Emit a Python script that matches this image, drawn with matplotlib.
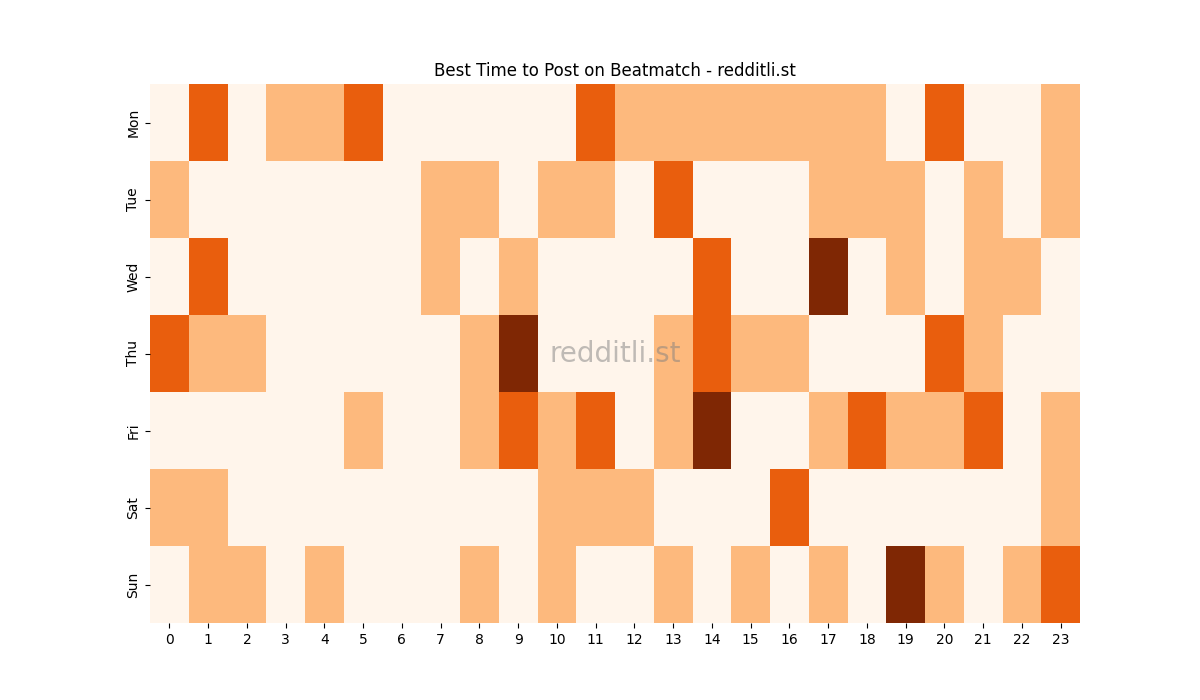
import numpy as np
import matplotlib.pyplot as plt
import seaborn as sns

days = ["Mon", "Tue", "Wed", "Thu", "Fri", "Sat", "Sun"]
hours = list(range(24))
mon = [0,2,0,1,1,2,0,0,0,0,0,2,1,1,1,1,1,1,1,0,2,0,0,1]
tue = [1,0,0,0,0,0,0,1,1,0,1,1,0,2,0,0,0,1,1,1,0,1,0,1]
wed = [0,2,0,0,0,0,0,1,0,1,0,0,0,0,2,0,0,3,0,1,0,1,1,0]
thu = [2,1,1,0,0,0,0,0,1,3,0,0,0,1,2,1,1,0,0,0,2,1,0,0]
fri = [0,0,0,0,0,1,0,0,1,2,1,2,0,1,3,0,0,1,2,1,1,2,0,1]
sat = [1,1,0,0,0,0,0,0,0,0,1,1,1,0,0,0,2,0,0,0,0,0,0,1]
sun = [0,1,1,0,1,0,0,0,1,0,1,0,0,1,0,1,0,1,0,3,1,0,1,2]

data = np.array([mon, tue, wed, thu, fri, sat, sun])

fig, ax = plt.subplots(figsize=(12, 7))
sns.heatmap(data, cmap="Oranges", vmin=0, vmax=3, cbar=False, ax=ax,
            xticklabels=hours, yticklabels=days)
ax.set_title("Best Time to Post on Beatmatch - redditli.st")
ax.text(0.5, 0.5, "redditli.st", transform=ax.transAxes, ha="center",
        va="center", fontsize=20, color="gray", alpha=0.5)
plt.savefig("out.png", dpi=100)
